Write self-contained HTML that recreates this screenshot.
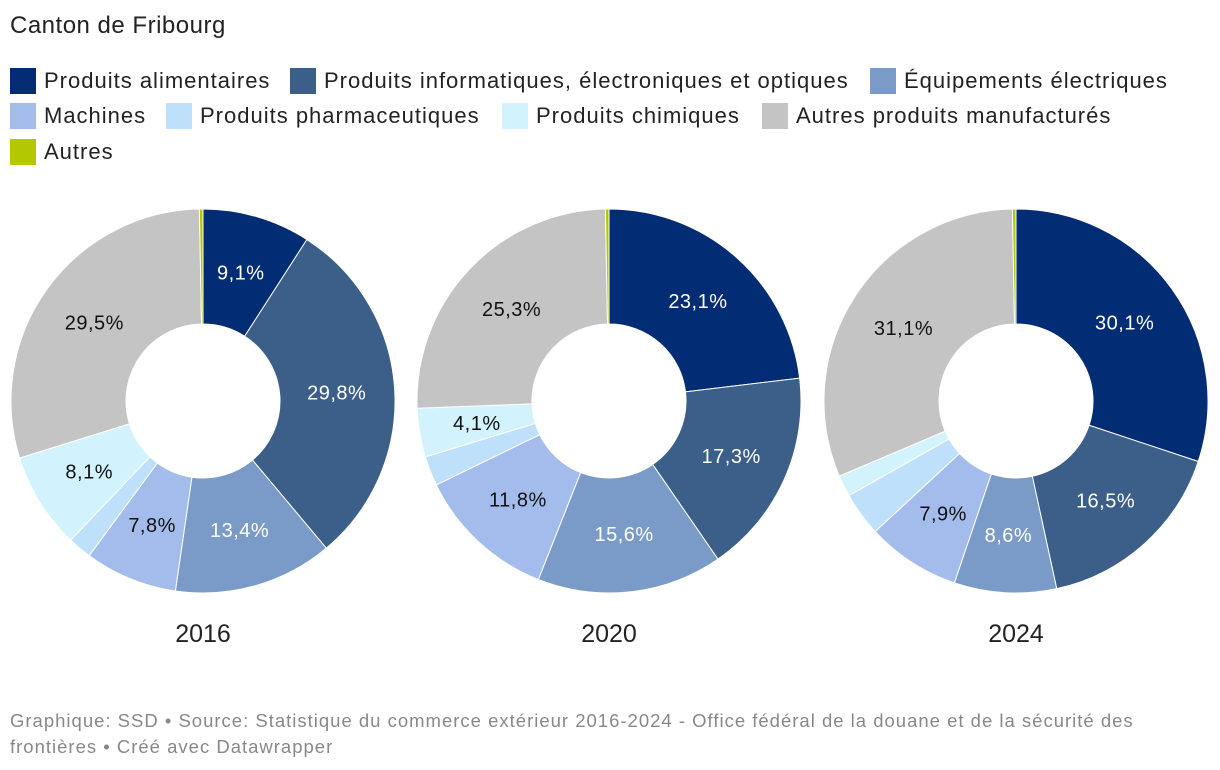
<!DOCTYPE html>
<html><head><meta charset="utf-8"><style>
body{margin:0;width:1220px;height:770px;background:#fff;font-family:"Liberation Sans",sans-serif;overflow:hidden;position:relative}
.t{position:absolute;left:10px;top:12px;font-size:24px;color:#222;letter-spacing:0.5px}
.lg{position:absolute;display:flex;align-items:center;font-size:22px;color:#222;white-space:nowrap;letter-spacing:1px}
.sw{width:26px;height:26px;margin-right:8px}
.ft{position:absolute;left:10px;top:708px;font-size:18.5px;color:#888;line-height:26px;width:1210px;letter-spacing:1px;white-space:nowrap}
</style></head><body>
<div class="t">Canton de Fribourg</div>
<div id="legend"></div>
<svg id="chart" width="1220" height="770" style="position:absolute;left:0;top:0"></svg>
<div class="ft">Graphique: SSD • Source: Statistique du commerce extérieur 2016-2024 - Office fédéral de la douane et de la sécurité des<br>frontières • Créé avec Datawrapper</div>
<script>
const categories=["Produits alimentaires","Produits informatiques, électroniques et optiques","Équipements électriques","Machines","Produits pharmaceutiques","Produits chimiques","Autres produits manufacturés","Autres"];
const colors=["#022c74","#3b5f89","#7a9bc8","#a3bcec","#bfe0fb","#d2f2fd","#c4c4c4","#b4c800"];
const years=["2016","2020","2024"];
const values2016=[9.1,29.8,13.4,7.8,2.0,8.1,29.5,0.3];
const values2020=[23.1,17.3,15.6,11.8,2.5,4.1,25.3,0.3];
const values2024=[30.1,16.5,8.6,7.9,3.7,1.8,31.1,0.3];
const series=[values2016,values2020,values2024];
const legendPos=[[10,68],[290,68],[870,68],[10,103],[166,103],[502,103],[762,103],[10,139]];
const lg=document.getElementById('legend');
categories.forEach((c,i)=>{const d=document.createElement('div');d.className='lg';d.style.left=legendPos[i][0]+'px';d.style.top=legendPos[i][1]+'px';


d.innerHTML='<div class="sw" style="background:'+colors[i]+'"></div>'+c;lg.appendChild(d);});
const svg=document.getElementById('chart');const NS='http://www.w3.org/2000/svg';
const centers=[203,609,1016],cy=401,R=192,r=77;
function pt(cx,a,rad){return [cx+rad*Math.sin(a),cy-rad*Math.cos(a)];}
series.forEach((vals,k)=>{const cx=centers[k];const tot=vals.reduce((a,b)=>a+b,0);let a0=0;
vals.forEach((v,i)=>{const a1=a0+v/tot*2*Math.PI;const lf=(a1-a0)>Math.PI?1:0;
const p1=pt(cx,a0,R),p2=pt(cx,a1,R),p3=pt(cx,a1,r),p4=pt(cx,a0,r);
const p=document.createElementNS(NS,'path');
p.setAttribute('d',`M${p1}A${R},${R} 0 ${lf} 1 ${p2}L${p3}A${r},${r} 0 ${lf} 0 ${p4}Z`);
p.setAttribute('fill',colors[i]);p.setAttribute('stroke','#fff');p.setAttribute('stroke-width','1');


svg.appendChild(p);
if(v>=4){const m=(a0+a1)/2;const q=pt(cx,m,134);const t=document.createElementNS(NS,'text');
t.setAttribute('x',q[0]);t.setAttribute('y',q[1]+7);t.setAttribute('text-anchor','middle');t.setAttribute('font-size','20');
t.setAttribute('letter-spacing','0.5');
t.setAttribute('fill',i<3?'#fff':'#111');t.textContent=v.toFixed(1).replace('.',',')+'%';


svg.appendChild(t);}
a0=a1;});
const y=document.createElementNS(NS,'text');y.setAttribute('x',cx);y.setAttribute('y',642);y.setAttribute('text-anchor','middle');y.setAttribute('font-size','25');y.setAttribute('fill','#222');y.textContent=years[k];


svg.appendChild(y);});
</script>
</body></html>
